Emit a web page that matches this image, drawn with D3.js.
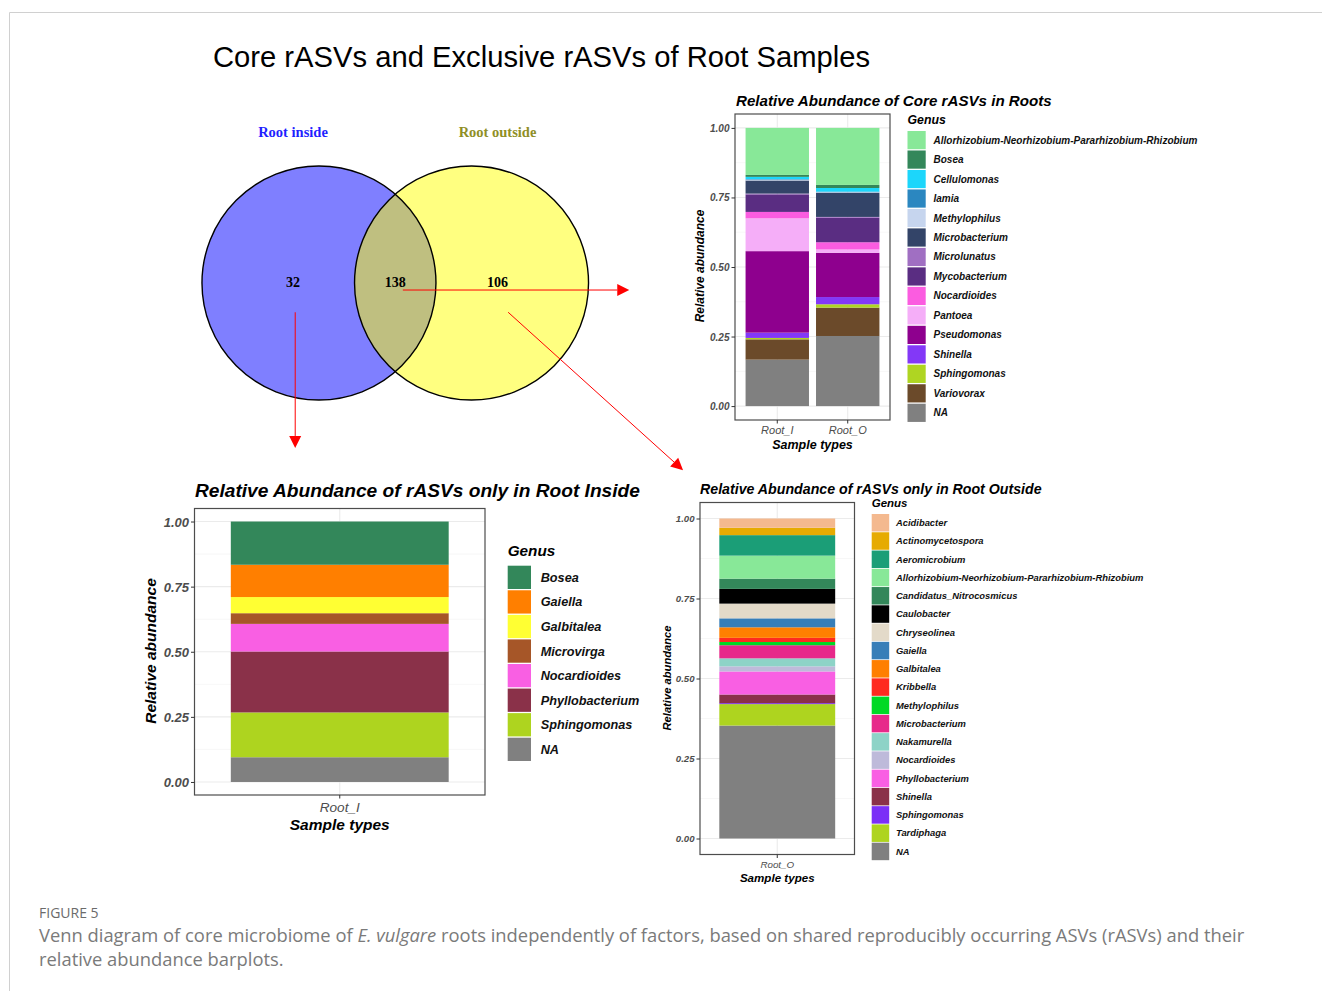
<!DOCTYPE html>
<html><head><meta charset="utf-8">
<script src="https://cdn.jsdelivr.net/npm/d3@7"></script>
<style>body{margin:0;background:#fff}svg{display:block}</style>
</head><body><svg id="c" width="1322" height="991"></svg>
<script>
// ---------------- DATA ----------------
const vennSets = ["Root inside", "Root outside"];
const vennCounts = [32, 138, 106]; // only inside, shared, only outside

const coreSamples = ["Root_I", "Root_O"];
const coreGenera = ["Allorhizobium-Neorhizobium-Pararhizobium-Rhizobium","Bosea","Cellulomonas","Iamia","Methylophilus","Microbacterium","Microlunatus","Mycobacterium","Nocardioides","Pantoea","Pseudomonas","Shinella","Sphingomonas","Variovorax","NA"];
const coreColors = ["#88e898","#33875a","#1cd6fb","#2b87c0","#c6d5ee","#334468","#a06fc2","#5a2d82","#fb5ce0","#f5aef8","#8e008e","#8338f7","#afd522","#6b4a2a","#808080"];
const coreRootI = [0.169,0.007,0.008,0.002,0.003,0.047,0.003,0.063,0.023,0.118,0.293,0.019,0.005,0.073,0.167];
const coreRootO = [0.205,0.011,0.013,0.002,0.002,0.087,0.003,0.088,0.026,0.012,0.159,0.026,0.012,0.102,0.252];

const inSamples = ["Root_I"];
const inGenera = ["Bosea","Gaiella","Galbitalea","Microvirga","Nocardioides","Phyllobacterium","Sphingomonas","NA"];
const inColors = ["#33875a","#ff7f00","#ffff33","#a65628","#f95fe3","#8a3149","#aed41f","#808080"];
const inRootI = [0.166,0.124,0.062,0.041,0.106,0.234,0.172,0.095];

const outSamples = ["Root_O"];
const outGenera = ["Acidibacter","Actinomycetospora","Aeromicrobium","Allorhizobium-Neorhizobium-Pararhizobium-Rhizobium","Candidatus_Nitrocosmicus","Caulobacter","Chryseolinea","Gaiella","Galbitalea","Kribbella","Methylophilus","Microbacterium","Nakamurella","Nocardioides","Phyllobacterium","Shinella","Sphingomonas","Tardiphaga","NA"];
const outColors = ["#f4b98f","#e6ab02","#1b9e77","#88e898","#33875a","#000000","#e3dac9","#377eb8","#ff7f00","#ff2a1f","#00d925","#e7298a","#8dd3c7","#bebada","#f95fe3","#8a3149","#7b2ff7","#aed41f","#808080"];
const outRootO = [0.029,0.023,0.064,0.072,0.032,0.046,0.046,0.028,0.033,0.013,0.010,0.041,0.025,0.016,0.072,0.027,0.003,0.067,0.353];

const yTicks = [0, 0.25, 0.5, 0.75, 1];
const yMinor = [0.125, 0.375, 0.625, 0.875];

// ---------------- DRAW ----------------
const svg = d3.select("#c");
const SANS = "'Liberation Sans', Arial, sans-serif";
const SERIF = "'Liberation Serif', 'Times New Roman', serif";

// frame
svg.append("line").attr("x1",9.5).attr("x2",1322).attr("y1",12.5).attr("y2",12.5).attr("stroke","#d0d0d0");
svg.append("line").attr("x1",9.5).attr("x2",9.5).attr("y1",12.5).attr("y2",991).attr("stroke","#d0d0d0");

function fit(sel, w){
  const n = sel.node(); const fs = parseFloat(sel.attr("font-size"));
  const cur = n.getComputedTextLength();
  sel.attr("font-size", (fs*w/cur).toFixed(2));
}

// main title
fit(svg.append("text").attr("x",213).attr("y",67).attr("font-family",SANS).attr("font-size",28)
  .attr("fill","#000").text("Core rASVs and Exclusive rASVs of Root Samples"), 657);

// ---------------- VENN ----------------
const R = 117;
const vx = d3.scaleLinear().domain([-1,1]).range([395.25-R, 395.25+R]);
const vy = d3.scaleLinear().domain([-1,1]).range([283-R, 283+R]);
const centres = [-0.652, 0.652];
const vg = svg.append("g");
vg.append("clipPath").attr("id","clipR").append("circle").attr("cx",vx(centres[1])).attr("cy",vy(0)).attr("r",R);
vg.append("circle").attr("cx",vx(centres[0])).attr("cy",vy(0)).attr("r",R).attr("fill","#7f7fff");
vg.append("circle").attr("cx",vx(centres[1])).attr("cy",vy(0)).attr("r",R).attr("fill","#ffff80");
vg.append("circle").attr("cx",vx(centres[0])).attr("cy",vy(0)).attr("r",R).attr("fill","#bfbf80").attr("clip-path","url(#clipR)");
centres.forEach(c=>vg.append("circle").attr("cx",vx(c)).attr("cy",vy(0)).attr("r",R).attr("fill","none").attr("stroke","#000").attr("stroke-width",1.4));
const numX = [-0.874, 0, 0.874];
vennCounts.forEach((v,i)=>vg.append("text").attr("x",vx(numX[i])).attr("y",vy(0.03)).attr("text-anchor","middle")
  .attr("font-family",SERIF).attr("font-weight","bold").attr("font-size",14).text(v));
const setCol = ["#1f1fff","#8f8f26"];
vennSets.forEach((s,i)=>vg.append("text").attr("x",vx(i?numX[2]:numX[0])).attr("y",vy(-1.25)).attr("text-anchor","middle")
  .attr("font-family",SERIF).attr("font-weight","bold").attr("font-size",14.5).attr("fill",setCol[i]).text(s));

// arrows (venn units)
const arrows = [
  {from:[0.065,0.06], to:[2.0,0.06]},
  {from:[-0.855,0.25], to:[-0.855,1.41]},
  {from:[0.965,0.25], to:[2.46,1.6]}
];
arrows.forEach(a=>{
  const x1=vx(a.from[0]), y1=vy(a.from[1]), x2=vx(a.to[0]), y2=vy(a.to[1]);
  const ang=Math.atan2(y2-y1,x2-x1), L=12, W=6;
  const bx=x2-L*Math.cos(ang), by=y2-L*Math.sin(ang);
  vg.append("line").attr("x1",x1).attr("y1",y1).attr("x2",bx).attr("y2",by).attr("stroke","#ff0000").attr("stroke-width",1);
  const p=[[x2,y2],[bx+W*Math.sin(ang),by-W*Math.cos(ang)],[bx-W*Math.sin(ang),by+W*Math.cos(ang)]];
  vg.append("polygon").attr("points",p.map(d=>d.join(",")).join(" ")).attr("fill","#ff0000");
});

// ---------------- STACKED BAR PANELS ----------------
function panel(cfg){
  const g = svg.append("g");
  const b = cfg.box;
  const y = d3.scaleLinear().domain([-0.05,1.05]).range([b.y1,b.y0]);
  const x = d3.scaleBand().domain(cfg.samples).range([b.x0,b.x1]).paddingInner(0.1).paddingOuter(0.15);
  // grid
  yMinor.forEach(t=>g.append("line").attr("x1",b.x0).attr("x2",b.x1).attr("y1",y(t)).attr("y2",y(t)).attr("stroke","#f2f2f2").attr("stroke-width",0.6));
  yTicks.forEach(t=>g.append("line").attr("x1",b.x0).attr("x2",b.x1).attr("y1",y(t)).attr("y2",y(t)).attr("stroke","#ebebeb").attr("stroke-width",1.1));
  cfg.samples.forEach(s=>g.append("line").attr("x1",x(s)+x.bandwidth()/2).attr("x2",x(s)+x.bandwidth()/2).attr("y1",b.y0).attr("y2",b.y1).attr("stroke","#ebebeb").attr("stroke-width",1.1));
  // bars
  const rows = cfg.samples.map((s,i)=>{const r={sample:s}; cfg.genera.forEach((gn,j)=>r[gn]=cfg.values[i][j]); return r;});
  const stack = d3.stack().keys(cfg.genera.slice().reverse())(rows);
  stack.forEach(layer=>{
    const col = cfg.colors[cfg.genera.indexOf(layer.key)];
    layer.forEach(d=>g.append("rect").attr("x",x(d.data.sample)).attr("width",x.bandwidth())
      .attr("y",y(d[1])).attr("height",Math.max(0,y(d[0])-y(d[1]))).attr("fill",col));
  });
  // border
  g.append("rect").attr("x",b.x0).attr("y",b.y0).attr("width",b.x1-b.x0).attr("height",b.y1-b.y0)
    .attr("fill","none").attr("stroke","#4d4d4d").attr("stroke-width",1.2);
  // y axis
  const ya = g.append("g").attr("transform",`translate(${b.x0},0)`).call(d3.axisLeft(y).tickValues(yTicks).tickFormat(d3.format(".2f")).tickSize(3.5).tickPadding(2));
  ya.select(".domain").remove();
  ya.selectAll("line").attr("stroke","#333");
  ya.selectAll("text").attr("font-family",SANS).attr("font-weight","bold").attr("font-style","italic").attr("font-size",cfg.fs.tick).attr("fill","#4d4d4d").attr("dy","0.35em");
  const xa = g.append("g").attr("transform",`translate(0,${b.y1})`).call(d3.axisBottom(x).tickSize(3.5).tickPadding(cfg.fs.xpad));
  xa.select(".domain").remove();
  xa.selectAll("line").attr("stroke","#333");
  xa.selectAll("text").attr("font-family",SANS).attr("font-style","italic").attr("font-size",cfg.fs.xtick).attr("fill","#4d4d4d");
  // axis titles
  g.append("text").attr("transform",`translate(${cfg.ytitle[0]},${cfg.ytitle[1]}) rotate(-90)`).attr("text-anchor","middle").attr("dy","0.35em")
    .attr("font-family",SANS).attr("font-weight","bold").attr("font-style","italic").attr("font-size",cfg.fs.ytitle).text("Relative abundance");
  g.append("text").attr("x",(b.x0+b.x1)/2).attr("y",cfg.xtitleY).attr("text-anchor","middle")
    .attr("font-family",SANS).attr("font-weight","bold").attr("font-style","italic").attr("font-size",cfg.fs.xtitle).text("Sample types");
  // title
  g.append("text").attr("x",cfg.title[0]).attr("y",cfg.title[1])
    .attr("font-family",SANS).attr("font-weight","bold").attr("font-style","italic").attr("font-size",cfg.fs.title).text(cfg.titleText);
  // legend
  const L = cfg.legend;
  g.append("text").attr("x",L.x).attr("y",L.titleY).attr("font-family",SANS).attr("font-weight","bold").attr("font-style","italic").attr("font-size",cfg.fs.ltitle).text("Genus");
  cfg.genera.forEach((gn,i)=>{
    const ty = L.y0 + i*L.step;
    g.append("rect").attr("x",L.x).attr("y",ty).attr("width",L.size).attr("height",L.size).attr("fill",cfg.colors[i]);
    g.append("text").attr("x",L.labelX).attr("y",ty+L.size/2).attr("dy","0.35em").attr("font-family",SANS).attr("font-weight","bold").attr("font-style","italic")
      .attr("font-size",cfg.fs.label).attr("fill","#111").text(gn);
  });
}

panel({
  samples: coreSamples, genera: coreGenera, colors: coreColors, values: [coreRootI, coreRootO],
  box: {x0:735, x1:890, y0:114, y1:420},
  fs: {tick:10, xtick:11, xpad:3, ytitle:12, xtitle:12.5, title:15.15, ltitle:12.3, label:10},
  ytitle: [700, 266], xtitleY: 449,
  title: [736, 106], titleText: "Relative Abundance of Core rASVs in Roots",
  legend: {x:907.5, titleY:124, y0:131, step:19.48, size:18.2, labelX:933.5}
});
panel({
  samples: inSamples, genera: inGenera, colors: inColors, values: [inRootI],
  box: {x0:194.5, x1:485, y0:508.5, y1:795},
  fs: {tick:13, xtick:13.6, xpad:4, ytitle:15.5, xtitle:15.5, title:19.15, ltitle:15.3, label:12.7},
  ytitle: [151, 651], xtitleY: 830,
  title: [195, 497], titleText: "Relative Abundance of rASVs only in Root Inside",
  legend: {x:507.7, titleY:556, y0:565.7, step:24.57, size:23.3, labelX:540.7}
});
panel({
  samples: outSamples, genera: outGenera, colors: outColors, values: [outRootO],
  box: {x0:700, x1:854.5, y0:502.5, y1:854.5},
  fs: {tick:9.6, xtick:9.8, xpad:3, ytitle:11.2, xtitle:11.6, title:14.2, ltitle:11.5, label:9.4},
  ytitle: [667, 678], xtitleY: 882,
  title: [700, 493.5], titleText: "Relative Abundance of rASVs only in Root Outside",
  legend: {x:871.7, titleY:506.7, y0:514, step:18.26, size:17.5, labelX:896}
});

// ---------------- CAPTION ----------------
const CAP = "'Open Sans', 'Noto Sans', sans-serif";
svg.append("text").attr("x",39).attr("y",918).attr("font-family",CAP).attr("font-size",14).attr("fill","#6b6b6b").text("FIGURE 5");
const l1 = svg.append("text").attr("x",39).attr("y",942).attr("font-family",CAP).attr("font-size",18).attr("fill","#7a7a7a");
l1.append("tspan").text("Venn diagram of core microbiome of ");
l1.append("tspan").attr("font-style","italic").text("E. vulgare");
l1.append("tspan").text(" roots independently of factors, based on shared reproducibly occurring ASVs (rASVs) and their");
fit(l1, 1206);
const fs1 = l1.attr("font-size");
svg.append("text").attr("x",39).attr("y",966).attr("font-family",CAP).attr("font-size",fs1).attr("fill","#7a7a7a").text("relative abundance barplots.");
</script>
</body></html>
